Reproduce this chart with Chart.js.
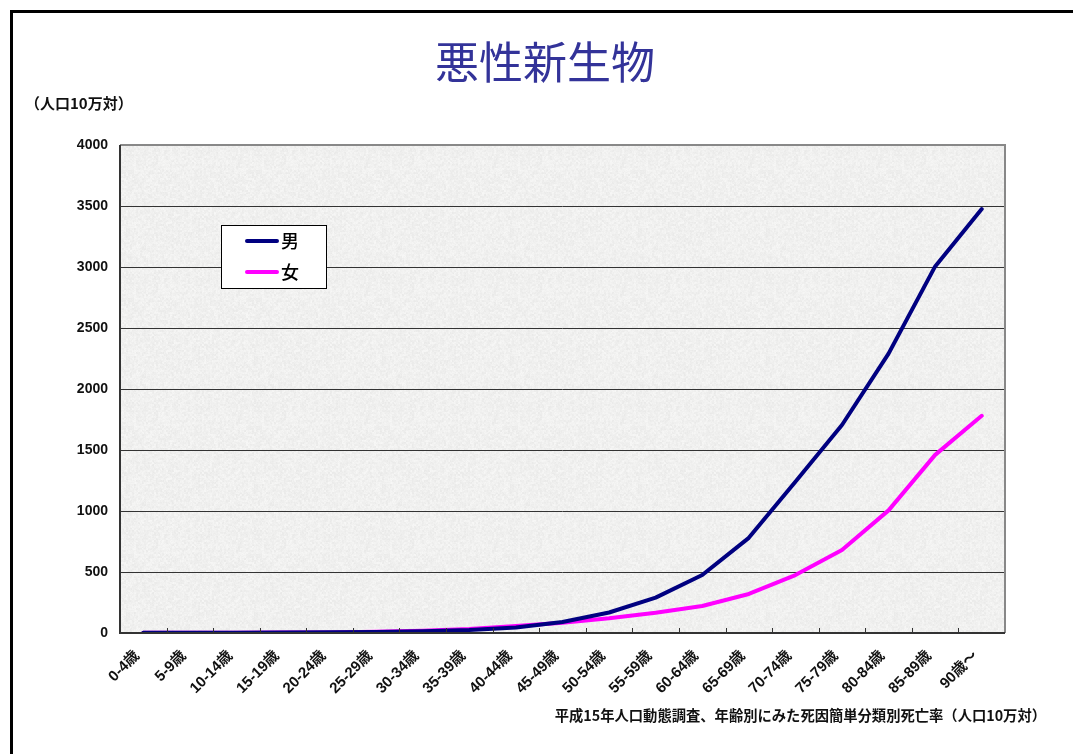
<!DOCTYPE html>
<html>
<head>
<meta charset="utf-8">
<script src="https://cdn.jsdelivr.net/npm/chart.js@4"></script>
<style>
html,body{margin:0;padding:0;background:#fff;}
#wrap{width:1073px;height:754px;position:relative;}
</style>
</head>
<body>
<div id="wrap"><canvas id="c" width="1073" height="754"></canvas></div>
<script>
const categories = ["0-4歳","5-9歳","10-14歳","15-19歳","20-24歳","25-29歳","30-34歳","35-39歳","40-44歳","45-49歳","50-54歳","55-59歳","60-64歳","65-69歳","70-74歳","75-79歳","80-84歳","85-89歳","90歳～"];
const maleValues = [3, 2.5, 2.6, 4.5, 6, 9, 14, 25, 45, 90, 168, 290, 475, 780, 1240, 1705, 2290, 3005, 3475];
const femaleValues = [2.5, 2, 2.2, 3.2, 5, 10, 18, 32, 58, 85, 120, 166, 221, 320, 475, 680, 1005, 1460, 1780];
const yTicks = [0, 500, 1000, 1500, 2000, 2500, 3000, 3500, 4000];
const titleText = "悪性新生物";
const unitText = "（人口10万対）";
const sourceText = "平成15年人口動態調査、年齢別にみた死因簡単分類別死亡率（人口10万対）";
const seriesNames = ["男", "女"];

function hash(x, y, s){
  let h = Math.imul(x, 374761393) + Math.imul(y, 668265263) + Math.imul(s, 2246822519);
  h = Math.imul(h ^ (h >>> 13), 1274126177);
  h = h ^ (h >>> 16);
  return (h >>> 0) / 4294967296;
}
// deterministic texture tile
function makePattern(ctx){
  const N = 128;
  const t = document.createElement('canvas');
  t.width = N; t.height = N;
  const g = t.getContext('2d');
  const img = g.createImageData(N,N);
  for(let y=0;y<N;y++){
    for(let x=0;x<N;x++){
      const a = hash(x, y, 1);
      const b = hash(x >> 1, y >> 1, 2);
      const v = Math.round(240 + (a - 0.5)*6 + (b - 0.5)*9);
      const i = (y*N+x)*4;
      img.data[i]=v; img.data[i+1]=v; img.data[i+2]=v-1; img.data[i+3]=255;
    }
  }
  g.putImageData(img,0,0);
  return ctx.createPattern(t,'repeat');
}

const decor = {
  id:'decor',
  beforeDraw(chart){
    const ctx = chart.ctx;
    const a = chart.chartArea;
    ctx.save();
    ctx.fillStyle = '#fff';
    ctx.fillRect(0,0,chart.width,chart.height);
    ctx.fillStyle = makePattern(ctx);
    ctx.fillRect(a.left,a.top,a.right-a.left,a.bottom-a.top);
    // page frame
    ctx.fillStyle = '#000';
    ctx.fillRect(10,10,chart.width-10,3);
    ctx.fillRect(10,10,3,chart.height-10);
    // title
    ctx.fillStyle = '#333399';
    ctx.font = '44px "Noto Sans CJK JP"';
    ctx.textAlign = 'center';
    ctx.textBaseline = 'middle';
    ctx.fillText(titleText, 545, 62);
    // unit label
    ctx.fillStyle = '#111';
    ctx.font = 'bold 15px "Noto Sans CJK JP"';
    ctx.textAlign = 'left';
    ctx.fillText(unitText, 25, 103);
    // source
    ctx.font = 'bold 14.3px "Noto Sans CJK JP"';
    ctx.textAlign = 'right';
    ctx.fillText(sourceText, 1046, 716);
    ctx.restore();
  },
  afterDatasetsDraw(chart){
    const ctx = chart.ctx;
    const a = chart.chartArea;
    ctx.save();
    // plot borders
    ctx.strokeStyle = '#888';
    ctx.lineWidth = 2;
    ctx.beginPath();
    ctx.moveTo(a.left, a.top); ctx.lineTo(a.right, a.top); ctx.lineTo(a.right, a.bottom);
    ctx.stroke();
    ctx.strokeStyle = '#333';
    ctx.beginPath();
    ctx.moveTo(a.left, a.top); ctx.lineTo(a.left, a.bottom); ctx.lineTo(a.right, a.bottom);
    ctx.stroke();
    // x tick marks at category boundaries (inward)
    ctx.lineWidth = 1;
    const n = categories.length;
    const step = (a.right - a.left) / n;
    for(let i=1;i<n;i++){
      const x = Math.round(a.left + step*i) + 0.5;
      ctx.beginPath(); ctx.moveTo(x, a.bottom); ctx.lineTo(x, a.bottom-5); ctx.stroke();
    }
    // legend
    ctx.fillStyle = '#fff';
    ctx.fillRect(221,225,105,63);
    ctx.strokeStyle = '#000';
    ctx.lineWidth = 1;
    ctx.strokeRect(221.5,225.5,105,63);
    const colors = ['#000080','#ff00ff'];
    const ys = [241, 272];
    ctx.lineCap = 'round';
    for(let k=0;k<2;k++){
      ctx.strokeStyle = colors[k];
      ctx.lineWidth = 4;
      ctx.beginPath(); ctx.moveTo(247, ys[k]); ctx.lineTo(277, ys[k]); ctx.stroke();
      ctx.fillStyle = '#000';
      ctx.font = '500 18px "Noto Sans CJK JP"';
      ctx.textAlign = 'left';
      ctx.textBaseline = 'middle';
      ctx.fillText(seriesNames[k], 281, ys[k]);
    }
    ctx.restore();
  }
};

new Chart(document.getElementById('c'), {
  type: 'line',
  data: {
    labels: categories,
    datasets: [
      {label: seriesNames[0], data: maleValues, borderColor:'#000080', borderWidth:4, pointRadius:0, tension:0, fill:false, borderCapStyle:'round', borderJoinStyle:'round'},
      {label: seriesNames[1], data: femaleValues, borderColor:'#ff00ff', borderWidth:4, pointRadius:0, tension:0, fill:false, borderCapStyle:'round', borderJoinStyle:'round'}
    ]
  },
  options: {
    responsive: false,
    animation: false,
    devicePixelRatio: 1,
    layout: {padding: {left:0, top:145, right:68, bottom:0}},
    plugins: {legend:{display:false}, title:{display:false}, tooltip:{enabled:false}},
    scales: {
      x: {
        offset: true,
        grid: {display:false},
        border: {display:false},
        ticks: {
          autoSkip:false, maxRotation:45, minRotation:45,
          color:'#111', padding:6, labelOffset:-6,
          font:{family:'"Liberation Sans", "Noto Sans CJK JP"', size:15, weight:'bold'}
        },
        afterFit(s){ s.height = 121; }
      },
      y: {
        min: 0, max: 4000,
        afterBuildTicks(s){ s.ticks = yTicks.map(v=>({value:v})); },
        grid: {color:'#333', lineWidth:1, drawTicks:false},
        border: {display:false},
        ticks: {
          color:'#111', padding:12,
          callback: (v) => String(v),
          font:{family:'"Liberation Sans", Arial', size:14, weight:'bold'}
        },
        afterFit(s){ s.width = 120; }
      }
    }
  },
  plugins: [decor]
});
</script>
</body>
</html>
